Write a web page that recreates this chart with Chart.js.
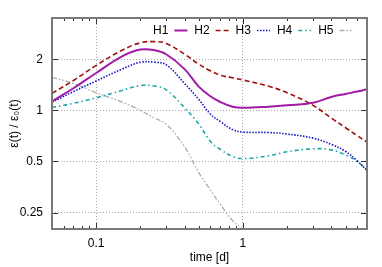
<!DOCTYPE html>
<html>
<head>
<meta charset="utf-8">
<script src="https://cdn.jsdelivr.net/npm/chart.js@4.4.1/dist/chart.umd.min.js"></script>
<style>
  html, body { margin: 0; padding: 0; background: #fff; }
</style>
</head>
<body>
<canvas id="epsChart" width="382" height="267"></canvas>
<script>
// time [d]
const times = [0.05, 0.07, 0.1, 0.15, 0.2, 0.25, 0.3, 0.4, 0.5, 0.6, 0.7, 0.85, 1, 1.5, 2, 3, 4, 5, 6, 7];

const h1 = [1.13, 1.35, 1.66, 2.08, 2.28, 2.26, 2.14, 1.75, 1.38, 1.21, 1.12, 1.05, 1.035, 1.05, 1.07, 1.11, 1.20, 1.25, 1.29, 1.33];
const h2 = [1.26, 1.50, 1.84, 2.26, 2.50, 2.54, 2.48, 2.14, 1.87, 1.71, 1.61, 1.555, 1.51, 1.385, 1.27, 1.07, 0.90, 0.79, 0.71, 0.65];
const h3 = [1.115, 1.29, 1.49, 1.75, 1.92, 1.92, 1.855, 1.44, 1.16, 0.95, 0.86, 0.77, 0.745, 0.74, 0.725, 0.686, 0.63, 0.573, 0.504, 0.443];
const h4 = [1.04, 1.10, 1.185, 1.31, 1.40, 1.39, 1.32, 1.035, 0.83, 0.656, 0.59, 0.535, 0.52, 0.54, 0.57, 0.594, 0.585, 0.546, 0.50, 0.443];
const h5 = [1.565, 1.44, 1.27, 1.12, 1.0, 0.90, 0.83, 0.61, 0.43, 0.34, 0.28, 0.224, 0.2];

const names = ['H1', 'H2', 'H3', 'H4', 'H5'];
const xTicks = [0.1, 1];
const yTicks = [0.25, 0.5, 1, 2];

const font = "'Liberation Sans', Arial, sans-serif";

const styles = [
  { color: '#a21aa5', dash: [], width: 2 },
  { color: '#a01010', dash: [5, 3], width: 1.6 },
  { color: '#1414c4', dash: [1.5, 1.5], width: 1.6 },
  { color: '#1ea6a6', dash: [4, 3, 1.5, 3], width: 1.6 },
  { color: '#ababab', dash: [5, 2, 1.5, 2, 1.5, 2], width: 1.3 }
];

function toPoints(vals) {
  return vals.map((v, i) => ({ x: times[i], y: v }));
}

// minor tick positions on the time axis
const minorX = [];
for (let d = 0.01; d < 10; d *= 10) {
  for (let m = 2; m <= 9; m++) {
    const v = +(d * m).toPrecision(3);
    if (v >= 0.05 && v <= 7) minorX.push(v);
  }
}

// gnuplot-like frame, inward ticks and key
const framePlugin = {
  id: 'framePlugin',
  afterDraw(chart) {
    const { ctx, chartArea: a, scales: { x, y } } = chart;
    ctx.save();
    ctx.strokeStyle = '#333';
    ctx.lineWidth = 1;
    ctx.beginPath();
    minorX.forEach(v => {
      const px = Math.round(x.getPixelForValue(v)) + 0.5;
      ctx.moveTo(px, a.bottom); ctx.lineTo(px, a.bottom - 3);
      ctx.moveTo(px, a.top); ctx.lineTo(px, a.top + 3);
    });
    xTicks.forEach(v => {
      const px = Math.round(x.getPixelForValue(v)) + 0.5;
      ctx.moveTo(px, a.bottom); ctx.lineTo(px, a.bottom - 6);
      ctx.moveTo(px, a.top); ctx.lineTo(px, a.top + 6);
    });
    yTicks.forEach(v => {
      const py = Math.round(y.getPixelForValue(v)) + 0.5;
      ctx.moveTo(a.left, py); ctx.lineTo(a.left + 6, py);
      ctx.moveTo(a.right, py); ctx.lineTo(a.right - 6, py);
    });
    ctx.stroke();

    ctx.strokeStyle = '#7a7a7a';
    ctx.lineWidth = 2;
    ctx.strokeRect(a.left, a.top, a.right - a.left, a.bottom - a.top);

    // key
    ctx.font = '12px ' + font;
    ctx.textBaseline = 'middle';
    ctx.fillStyle = '#000';
    const ky = a.top + 12.5;
    let kx = a.right - 214;
    names.forEach((n, i) => {
      ctx.fillText(n, kx, ky);
      const sx = kx + ctx.measureText(n).width + 6;
      ctx.beginPath();
      ctx.strokeStyle = styles[i].color;
      ctx.lineWidth = styles[i].width;
      ctx.setLineDash(styles[i].dash);
      ctx.moveTo(sx, ky); ctx.lineTo(sx + 13, ky);
      ctx.stroke();
      ctx.setLineDash([]);
      kx += 41.3;
    });
    ctx.restore();
  }
};

new Chart(document.getElementById('epsChart'), {
  type: 'line',
  data: {
    datasets: [h1, h2, h3, h4, h5].map((vals, i) => ({
      label: names[i],
      data: toPoints(vals),
      borderColor: styles[i].color,
      borderWidth: styles[i].width,
      borderDash: styles[i].dash,
      pointRadius: 0,
      fill: false,
      tension: 0.4
    }))
  },
  options: {
    responsive: false,
    animation: false,
    layout: { padding: { top: 18, right: 15, left: 0, bottom: 0 } },
    scales: {
      x: {
        type: 'logarithmic',
        min: 0.05,
        max: 7,
        afterBuildTicks: s => { s.ticks = xTicks.map(v => ({ value: v })); },
        afterFit: s => { s.height = 38; },
        ticks: {
          callback: v => String(v),
          color: '#000',
          padding: 7,
          maxRotation: 0,
          font: { family: font, size: 12 }
        },
        grid: { color: '#a8a8a8', drawTicks: false },
        border: { display: false, dash: [1, 2] },
        title: {
          display: true,
          text: 'time [d]',
          color: '#000',
          font: { family: font, size: 12 },
          padding: { top: 0, bottom: 2 }
        }
      },
      y: {
        type: 'logarithmic',
        min: 0.2,
        max: 3.5,
        afterBuildTicks: s => { s.ticks = yTicks.map(v => ({ value: v })); },
        afterFit: s => { s.width = 52; },
        ticks: {
          callback: v => String(v),
          color: '#000',
          padding: 9,
          font: { family: font, size: 12 }
        },
        grid: { color: '#a8a8a8', drawTicks: false },
        border: { display: false, dash: [1, 2] },
        title: {
          display: true,
          text: 'ε(t) / ε₀(t)',
          color: '#000',
          font: { family: font, size: 12 },
          padding: { top: 7, bottom: 0 }
        }
      }
    },
    plugins: {
      legend: { display: false },
      tooltip: { enabled: false }
    }
  },
  plugins: [framePlugin]
});
</script>
</body>
</html>
